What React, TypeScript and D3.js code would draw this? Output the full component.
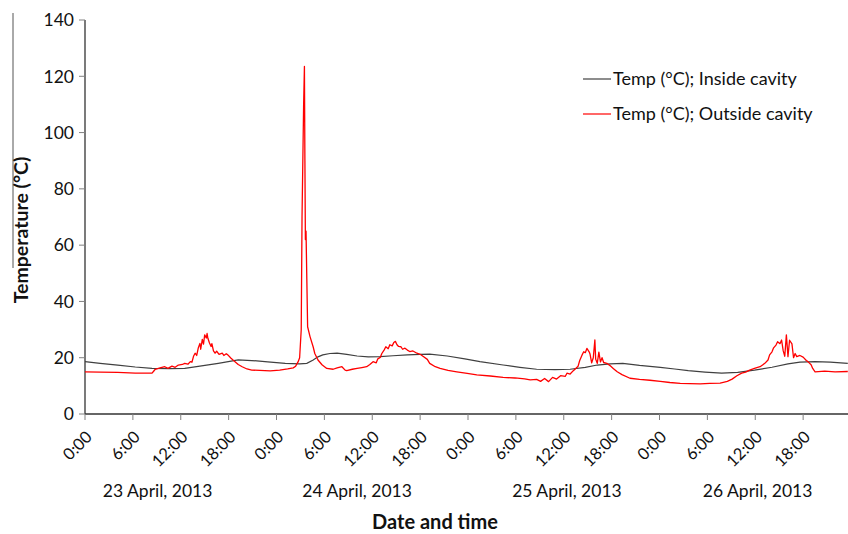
import React from 'react';
import * as d3 from 'd3';

// hours since 23 April 2013 0:00
const insideHours = [0, 1.9, 4.1, 6.3, 8.4, 10.7, 12.5, 14.4, 16.7, 19.2, 20.9, 22.9, 25.1, 26.9, 27.8, 28.6, 29.2, 29.8, 30.7, 31.6, 32.8, 34.1, 35.5, 37.0, 38.6, 40.4, 42.0, 43.2, 45.4, 47.6, 49.5, 52.4, 54.5, 56.6, 58.9, 60.8, 62.7, 64.2, 65.8, 67.4, 69.5, 72.1, 73.9, 75.6, 77.7, 79.8, 81.8, 83.9, 86.1, 88.1, 89.6, 91.5, 93.4, 95.6];
const insideTemps = [18.6, 18.0, 17.4, 16.7, 16.2, 16.1, 16.2, 17.0, 18.0, 19.2, 19.0, 18.5, 18.0, 17.8, 18.0, 19.2, 20.3, 21.0, 21.5, 21.6, 21.2, 20.6, 20.3, 20.4, 20.7, 21.0, 21.2, 21.3, 20.6, 19.6, 18.6, 17.4, 16.6, 15.9, 15.8, 15.9, 16.6, 17.4, 17.8, 18.0, 17.3, 16.6, 16.0, 15.4, 14.9, 14.5, 14.8, 15.6, 16.6, 17.8, 18.4, 18.6, 18.4, 18.0];

const outsideHours = [0, 1.9, 4.1, 6.3, 8.4, 8.6, 8.8, 9.4, 10.0, 10.4, 10.9, 11.3, 11.7, 12.2, 12.5, 12.9, 13.2, 13.4, 13.6, 13.8, 14.0, 14.2, 14.4, 14.5, 14.7, 14.85, 15.0, 15.2, 15.3, 15.4, 15.6, 15.8, 15.9, 16.1, 16.3, 16.5, 16.8, 17.2, 17.4, 17.7, 17.9, 18.3, 18.8, 19.2, 19.7, 20.3, 20.9, 21.9, 23.2, 24.4, 25.4, 26.1, 26.4, 26.7, 26.9, 27.1, 27.2, 27.4, 27.5, 27.56, 27.62, 27.7, 27.8, 27.9, 28.2, 28.6, 28.8, 29.2, 29.7, 30.3, 31.1, 31.6, 32.2, 32.6, 32.8, 33.5, 34.1, 34.7, 35.3, 35.7, 36.1, 36.5, 36.7, 37.0, 37.2, 37.5, 37.7, 38.0, 38.2, 38.5, 38.7, 38.9, 39.1, 39.3, 39.6, 39.8, 40.1, 40.4, 40.7, 41.1, 41.6, 42.0, 42.4, 42.9, 43.2, 43.9, 44.5, 45.5, 46.6, 47.9, 49.1, 50.8, 52.4, 53.9, 55.1, 55.8, 56.6, 57.1, 57.6, 58.1, 58.6, 59.1, 59.6, 60.2, 60.4, 60.8, 61.2, 61.5, 61.8, 62.0, 62.3, 62.5, 62.7, 62.9, 63.2, 63.3, 63.5, 63.7, 63.9, 64.0, 64.2, 64.4, 64.6, 64.8, 65.0, 65.4, 65.8, 66.2, 66.7, 67.3, 68.3, 69.5, 70.8, 72.1, 73.3, 74.6, 75.8, 77.1, 78.3, 79.6, 80.5, 81.1, 81.7, 82.3, 82.8, 83.3, 83.9, 84.6, 85.2, 85.6, 85.8, 86.1, 86.3, 86.6, 86.8, 87.1, 87.3, 87.5, 87.7, 87.9, 88.1, 88.3, 88.6, 88.8, 89.0, 89.2, 89.6, 90.0, 90.4, 90.6, 91.0, 91.2, 91.5, 92.7, 94.0, 95.6];
const outsideTemps = [15.0, 14.9, 14.8, 14.5, 14.5, 15.2, 15.9, 16.4, 16.8, 16.2, 17.0, 16.6, 17.4, 17.6, 18.0, 17.7, 18.6, 18.4, 20.5, 21.6, 20.8, 23.5, 25.1, 23.0, 26.5, 24.8, 28.1, 27.0, 28.6, 26.9, 25.2, 24.0, 25.0, 22.4, 21.6, 22.3, 21.2, 21.6, 20.8, 21.4, 21.0, 19.8, 18.6, 17.6, 16.8, 16.0, 15.6, 15.5, 15.3, 15.6, 16.0, 16.4, 17.0, 18.5, 20.0, 30, 70, 110, 123.5, 90, 62, 65, 48, 31, 27.5, 23.8, 21.5, 19.2, 17.5, 16.2, 15.9, 16.4, 16.8, 15.6, 15.4, 15.9, 16.2, 16.5, 16.8, 17.6, 18.6, 18.2, 19.6, 20.1, 21.5, 22.8, 23.9, 23.2, 24.6, 24.2, 25.4, 25.8, 24.6, 24.0, 23.9, 23.0, 23.4, 22.7, 22.2, 22.4, 21.6, 21.2, 20.4, 19.4, 18.0, 16.8, 16.2, 15.5, 15.0, 14.4, 13.9, 13.5, 13.0, 12.8, 12.5, 12.1, 12.3, 11.6, 12.6, 11.5, 13.0, 12.4, 13.6, 13.4, 14.5, 14.2, 15.4, 16.2, 17.0, 19.0, 21.0, 22.1, 21.8, 23.3, 22.0, 21.2, 18.2, 20.0, 26.3, 19.5, 18.0, 22.0, 18.5, 20.0, 18.3, 18.0, 17.2, 16.2, 15.0, 14.0, 12.7, 12.3, 12.0, 11.6, 11.2, 10.9, 10.8, 10.7, 10.9, 11.0, 11.6, 12.4, 13.6, 14.5, 14.9, 15.6, 16.2, 16.8, 18.0, 19.2, 21.0, 22.1, 23.5, 24.5, 25.7, 25.0, 26.3, 22.5, 20.5, 28.1, 20.4, 26.2, 24.9, 20.0, 21.5, 20.4, 20.8, 20.2, 19.0, 18.6, 17.5, 16.2, 15.0, 15.2, 15.0, 15.1];

const xTickHours = d3.range(0, 96, 6);
const xTickLabels = xTickHours.map(h => `${h % 24}:00`);
const yTicks = [0, 20, 40, 60, 80, 100, 120, 140];
const dayLabels = ['23 April, 2013', '24 April, 2013', '25 April, 2013', '26 April, 2013'];
const dayLabelHours = [9.1, 34.1, 60.4, 84.3];

const seriesNames = ['Temp (°C); Inside cavity', 'Temp (°C); Outside cavity'];
const seriesColors = ['#404040', '#ff0000'];

const W = 848;
const H = 534;
const FONT = 'Lato, "Open Sans", sans-serif';

export default function App() {
  const x = d3.scaleLinear().domain([0, 96]).range([85, 851]);
  const y = d3.scaleLinear().domain([0, 140]).range([414, 20]);

  const line = d3.line<[number, number]>()
    .x(d => x(d[0]))
    .y(d => y(d[1]));

  const inside = insideHours.map((h, i) => [h, insideTemps[i]] as [number, number]);
  const outside = outsideHours.map((h, i) => [h, outsideTemps[i]] as [number, number]);

  return (
    <svg width={W} height={H} style={{ position: 'absolute', left: 0, top: 0, background: '#fff' }}
      fontFamily={FONT}>
      {/* stray line left of the y title */}
      <line x1={13} x2={13} y1={13} y2={268} stroke="#555" strokeWidth={1} />

      {/* y axis */}
      <line x1={x(0)} x2={x(0)} y1={y(140)} y2={y(0)} stroke="#333" strokeWidth={1.3} />
      {yTicks.map(t => (
        <g key={t}>
          <line x1={x(0) - 6} x2={x(0)} y1={y(t)} y2={y(t)} stroke="#808080" />
          <text x={x(0) - 11} y={y(t)} dy="0.36em" textAnchor="end" fontSize={17.5} fill="#111">{t}</text>
        </g>
      ))}

      {/* x axis */}
      <line x1={x(0)} x2={W} y1={y(0)} y2={y(0)} stroke="#333" strokeWidth={1.3} />
      {xTickHours.map((h, i) => (
        <g key={h}>
          <line x1={x(h)} x2={x(h)} y1={y(0)} y2={y(0) + 6} stroke="#808080" />
          <text transform={`translate(${x(h) + 4},${y(0) + 20}) rotate(-45)`} textAnchor="end"
            dy="0.35em" fontSize={16.5} fill="#111">{xTickLabels[i]}</text>
        </g>
      ))}
      {dayLabels.map((d, i) => (
        <text key={d} x={x(dayLabelHours[i])} y={497} textAnchor="middle" fontSize={17.5} fill="#111">{d}</text>
      ))}

      {/* axis titles */}
      <text x={435} y={529} textAnchor="middle" fontSize={20} fontWeight="bold" fill="#111">Date and time</text>
      <text transform="translate(28,230) rotate(-90)" textAnchor="middle" fontSize={19.5} fontWeight="bold" fill="#111">Temperature (°C)</text>

      {/* series */}
      <path d={line(inside) || ''} fill="none" stroke={seriesColors[0]} strokeWidth={1.2} />
      <path d={line(outside) || ''} fill="none" stroke={seriesColors[1]} strokeWidth={1.3} strokeLinejoin="round" />

      {/* legend */}
      {seriesNames.map((s, i) => (
        <g key={s} transform={`translate(583,${79 + i * 35})`}>
          <line x1={0} x2={28} y1={0} y2={0} stroke={seriesColors[i]} strokeWidth={1.2} />
          <text x={30} dy="0.35em" fontSize={18} fill="#111">{s}</text>
        </g>
      ))}
    </svg>
  );
}
